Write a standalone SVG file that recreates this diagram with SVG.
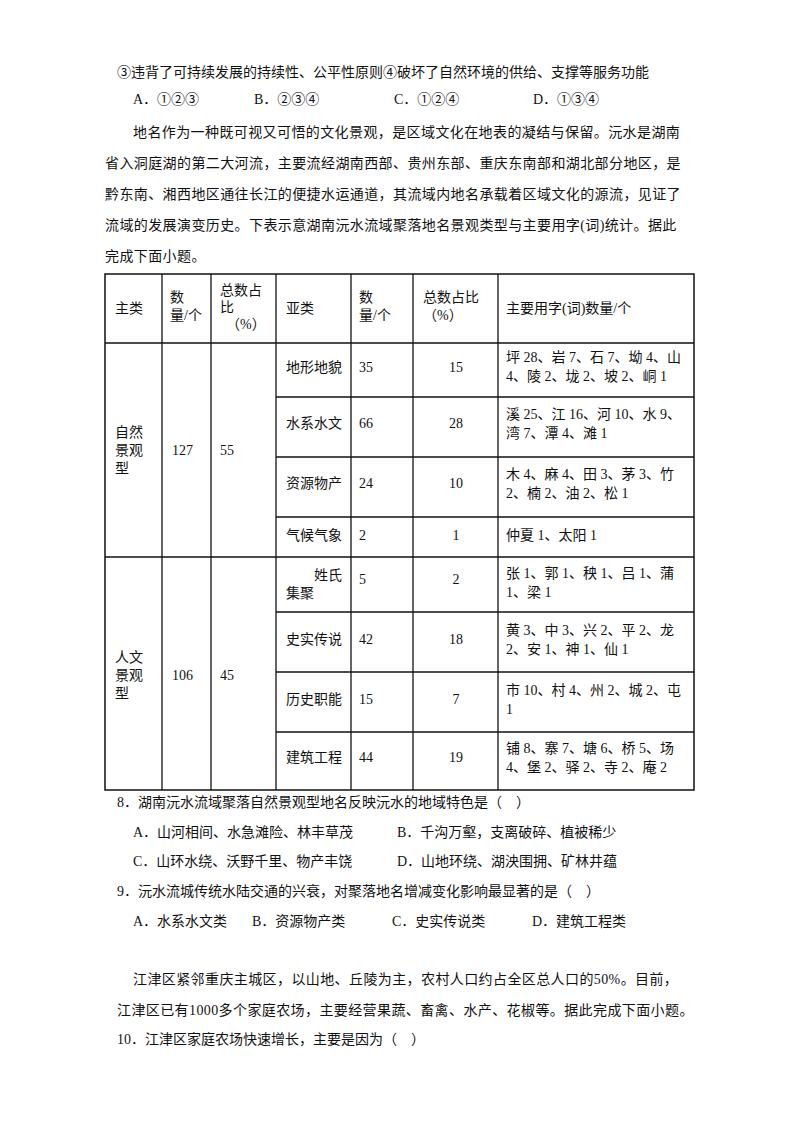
<svg xmlns="http://www.w3.org/2000/svg" width="800" height="1132" viewBox="0 0 800 1132">
<style>
text{font-family:"Liberation Serif","Noto Sans CJK SC",serif;font-size:14px;fill:#111}
.p{font-size:14px;letter-spacing:0.4px}
.c{text-anchor:middle}
line{stroke:#111;stroke-width:1.3}
</style>
<rect width="800" height="1132" fill="#fff"/>
<text x="117" y="77">③违背了可持续发展的持续性、公平性原则④破坏了自然环境的供给、支撑等服务功能</text>
<text x="133" y="104">A．①②③</text><text x="254" y="104">B．②③④</text><text x="394" y="104">C．①②④</text><text x="533" y="104">D．①③④</text>
<text class="p" x="133" y="137">地名作为一种既可视又可悟的文化景观，是区域文化在地表的凝结与保留。沅水是湖南</text>
<text class="p" x="105" y="168">省入洞庭湖的第二大河流，主要流经湖南西部、贵州东部、重庆东南部和湖北部分地区，是</text>
<text class="p" x="105" y="199">黔东南、湘西地区通往长江的便捷水运通道，其流域内地名承载着区域文化的源流，见证了</text>
<text class="p" x="105" y="230">流域的发展演变历史。下表示意湖南沅水流域聚落地名景观类型与主要用字(词)统计。据此</text>
<text class="p" x="105" y="261">完成下面小题。</text>
<g id="table">
<rect x="105" y="274" width="589" height="516" fill="none" stroke="#111" stroke-width="1.5"/>
<line x1="162" y1="274" x2="162" y2="790"/><line x1="211" y1="274" x2="211" y2="790"/>
<line x1="276" y1="274" x2="276" y2="790"/><line x1="351" y1="274" x2="351" y2="790"/>
<line x1="413" y1="274" x2="413" y2="790"/><line x1="498" y1="274" x2="498" y2="790"/>
<line x1="105" y1="343" x2="694" y2="343"/><line x1="105" y1="557" x2="694" y2="557"/>
<line x1="276" y1="397" x2="694" y2="397"/><line x1="276" y1="457" x2="694" y2="457"/>
<line x1="276" y1="517" x2="694" y2="517"/><line x1="276" y1="612" x2="694" y2="612"/>
<line x1="276" y1="672" x2="694" y2="672"/><line x1="276" y1="732" x2="694" y2="732"/>
<text x="115" y="313">主类</text>
<text x="170" y="302">数</text><text x="170" y="320">量/个</text>
<text x="220" y="295">总数占</text><text x="220" y="312">比</text><text x="226" y="329">（%）</text>
<text x="286" y="313">亚类</text>
<text x="359" y="302">数</text><text x="359" y="320">量/个</text>
<text x="423" y="302">总数占比</text><text x="423" y="320">（%）</text>
<text x="506" y="313">主要用字(词)数量/个</text>
<text x="115" y="437">自然</text><text x="115" y="455">景观</text><text x="115" y="473">型</text>
<text x="172" y="455">127</text><text x="220" y="455">55</text>
<text x="115" y="662">人文</text><text x="115" y="680">景观</text><text x="115" y="698">型</text>
<text x="172" y="680">106</text><text x="220" y="680">45</text>
<text x="286" y="372">地形地貌</text><text x="359" y="372">35</text><text class="c" x="456" y="372">15</text>
<text x="506" y="362">坪 28、岩 7、石 7、坳 4、山</text><text x="506" y="381">4、陵 2、垅 2、坡 2、峒 1</text>
<text x="286" y="428">水系水文</text><text x="359" y="428">66</text><text class="c" x="456" y="428">28</text>
<text x="506" y="419">溪 25、江 16、河 10、水 9、</text><text x="506" y="438">湾 7、潭 4、滩 1</text>
<text x="286" y="488">资源物产</text><text x="359" y="488">24</text><text class="c" x="456" y="488">10</text>
<text x="506" y="479">木 4、麻 4、田 3、茅 3、竹</text><text x="506" y="498">2、楠 2、油 2、松 1</text>
<text x="286" y="540">气候气象</text><text x="359" y="540">2</text><text class="c" x="456" y="540">1</text>
<text x="506" y="540">仲夏 1、太阳 1</text>
<text x="314" y="580">姓氏</text><text x="286" y="598">集聚</text><text x="359" y="584">5</text><text class="c" x="456" y="584">2</text>
<text x="506" y="578">张 1、郭 1、秧 1、吕 1、蒲</text><text x="506" y="597">1、梁 1</text>
<text x="286" y="644">史实传说</text><text x="359" y="644">42</text><text class="c" x="456" y="644">18</text>
<text x="506" y="635">黄 3、中 3、兴 2、平 2、龙</text><text x="506" y="654">2、安 1、神 1、仙 1</text>
<text x="286" y="704">历史职能</text><text x="359" y="704">15</text><text class="c" x="456" y="704">7</text>
<text x="506" y="695">市 10、村 4、州 2、城 2、屯</text><text x="506" y="714">1</text>
<text x="286" y="762">建筑工程</text><text x="359" y="762">44</text><text class="c" x="456" y="762">19</text>
<text x="506" y="753">铺 8、寨 7、塘 6、桥 5、场</text><text x="506" y="772">4、堡 2、驿 2、寺 2、庵 2</text>
</g>
<text x="117" y="807">8．湖南沅水流域聚落自然景观型地名反映沅水的地域特色是（&#160;&#160;&#160;&#160;）</text>
<text x="133" y="837">A．山河相间、水急滩险、林丰草茂</text><text x="397" y="837">B．千沟万壑，支离破碎、植被稀少</text>
<text x="133" y="866">C．山环水绕、沃野千里、物产丰饶</text><text x="397" y="866">D．山地环绕、湖泱围拥、矿林井蕴</text>
<text x="117" y="896">9．沅水流城传统水陆交通的兴衰，对聚落地名增减变化影响最显著的是（&#160;&#160;&#160;&#160;）</text>
<text x="133" y="926">A．水系水文类</text><text x="252" y="926">B．资源物产类</text><text x="392" y="926">C．史实传说类</text><text x="532" y="926">D．建筑工程类</text>
<text class="p" x="133" y="984">江津区紧邻重庆主城区，以山地、丘陵为主，农村人口约占全区总人口的50%。目前，</text>
<text class="p" x="117" y="1015">江津区已有1000多个家庭农场，主要经营果蔬、畜禽、水产、花椒等。据此完成下面小题。</text>
<text x="117" y="1044">10．江津区家庭农场快速增长，主要是因为（&#160;&#160;&#160;&#160;）</text>
</svg>
